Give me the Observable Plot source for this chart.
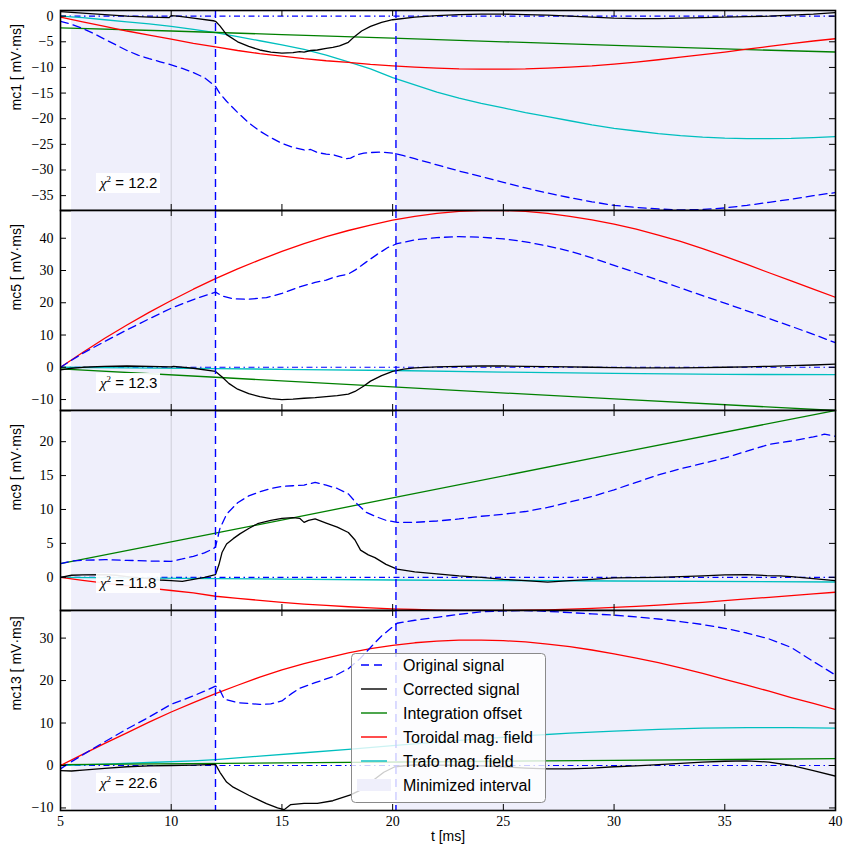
<!DOCTYPE html>
<html><head><meta charset="utf-8">
<script src="https://cdn.jsdelivr.net/npm/d3@7"></script>
<script src="https://cdn.jsdelivr.net/npm/@observablehq/plot@0.6"></script>
<style>
body{margin:0;background:#fff;}
#chart{position:relative;width:851px;height:858px;overflow:hidden;background:#fff;}
#chart svg{position:absolute;left:0;}
</style></head><body><div id="chart"></div>
<script>
// ---------- data ----------
const tExtent = [5, 40];
const xTicks = [5, 10, 15, 20, 25, 30, 35, 40];
const minimizedIntervals = [[5.5, 12], [20.15, 40]];
const cutLines = [12, 20.15];
const refLine = [10];
const panelLabels = ["mc1 [ mV·ms]", "mc5 [ mV·ms]", "mc9 [ mV·ms]", "mc13 [ mV·ms]"];
const chi2Values = ["12.2", "12.3", "11.8", "22.6"];
const yDomains = [[-37.9, 1.1], [-13.4, 48.6], [-4.9, 24.6], [-10.6, 36.5]];
const yTicks = [[0, -5, -10, -15, -20, -25, -30, -35], [-10, 0, 10, 20, 30, 40], [0, 5, 10, 15, 20], [-10, 0, 10, 20, 30]];
const legendLabels = ["Original signal", "Corrected signal", "Integration offset", "Toroidal mag. field", "Trafo mag. field", "Minimized interval"];

// mc1
const mc1Original = [[5,-1.0],[5.5,-1.6],[6,-2.4],[6.5,-3.4],[7,-4.5],[7.5,-5.6],[8,-6.7],[8.5,-7.6],[9,-8.3],[9.5,-8.9],[10,-9.5],[10.5,-10.2],[11,-11.0],[11.5,-12.0],[12,-13.7],[12.2,-15.1],[12.5,-16.6],[13,-18.8],[13.5,-20.8],[14,-22.4],[14.5,-23.7],[15,-24.8],[15.5,-25.6],[16,-26.1],[16.3,-26.0],[16.6,-26.6],[17,-26.9],[17.3,-27.0],[17.6,-27.4],[17.9,-27.8],[18.1,-27.7],[18.4,-27.0],[18.7,-26.7],[19,-26.6],[19.5,-26.5],[20,-26.7],[20.5,-27.2],[21,-27.8],[22,-29.0],[23,-30.2],[24,-31.3],[25,-32.4],[26,-33.5],[27,-34.5],[28,-35.4],[29,-36.2],[30,-36.9],[31,-37.3],[32,-37.6],[33,-37.8],[34,-37.7],[35,-37.4],[36,-36.9],[37,-36.3],[38,-35.7],[39,-35.0],[40,-34.4]];
const mc1Corrected = [[5,0.9],[6,0.6],[7,0.3],[8,0.0],[9,-0.2],[9.9,-0.3],[10,0.1],[10.3,0.0],[11,-0.4],[11.9,-0.9],[12,-1.0],[12.2,-1.9],[12.5,-3.6],[13,-5.0],[13.5,-5.9],[14,-6.6],[14.5,-7.0],[15,-7.2],[15.5,-7.1],[15.8,-6.9],[16,-7.0],[16.3,-6.7],[16.6,-6.6],[17,-6.3],[17.3,-6.1],[17.6,-5.8],[18,-5.1],[18.3,-3.9],[18.6,-2.9],[19,-2.0],[19.5,-1.2],[20,-0.7],[21,-0.2],[22,0.1],[23,0.3],[24,0.4],[25,0.4],[26,0.3],[27,0.2],[28,0.0],[29,-0.2],[30,-0.4],[31,-0.5],[32,-0.5],[33,-0.4],[34,-0.3],[35,-0.2],[36,-0.1],[37,0.0],[38,0.2],[39,0.4],[40,0.7]];
const mc1Offset = [[5,-2.3],[10,-2.9],[15,-3.6],[20,-4.3],[25,-5.0],[30,-5.7],[35,-6.4],[40,-7.0]];
const mc1Toroidal = [[5,-0.2],[6,-1.1],[7,-2.0],[8,-2.9],[9,-3.7],[10,-4.5],[11,-5.3],[12,-6.0],[13,-6.7],[14,-7.3],[15,-7.8],[16,-8.3],[17,-8.7],[18,-9.0],[19,-9.4],[20,-9.7],[21,-9.95],[22,-10.15],[23,-10.3],[24,-10.35],[25,-10.35],[26,-10.3],[27,-10.15],[28,-9.95],[29,-9.7],[30,-9.35],[31,-8.95],[32,-8.5],[33,-8.0],[34,-7.5],[35,-7.0],[36,-6.45],[37,-5.9],[38,-5.35],[39,-4.85],[40,-4.4]];
const mc1Trafo = [[5,0],[6,-0.3],[7,-0.7],[8,-1.1],[9,-1.5],[10,-2.0],[11,-2.6],[12,-3.2],[13,-4.0],[14,-4.8],[15,-5.6],[16,-6.5],[17,-7.6],[18,-8.9],[19,-10.3],[20,-12.0],[21,-13.4],[22,-14.8],[23,-16.0],[24,-17.0],[25,-17.9],[26,-18.8],[27,-19.6],[28,-20.4],[29,-21.2],[30,-21.9],[31,-22.4],[32,-22.9],[33,-23.3],[34,-23.6],[35,-23.8],[36,-23.9],[37,-23.9],[38,-23.85],[39,-23.7],[40,-23.5]];

// mc5
const mc5Original = [[5,0],[5.5,2.2],[6,4.3],[7,8.0],[8,11.6],[9,15.0],[10,18.3],[11,21.0],[12,23.3],[12.3,22.1],[12.8,21.2],[13.5,21.1],[14.3,21.6],[15,22.9],[15.8,24.9],[16.5,26.3],[17,27.0],[17.3,27.8],[17.6,28.3],[18,28.9],[18.3,30.1],[18.8,32.6],[19.3,35.0],[19.8,37.2],[20.2,38.3],[21,39.5],[22,40.2],[23,40.5],[24,40.3],[25,39.8],[26,38.9],[27,37.6],[28,36.0],[29,33.9],[30,31.6],[31,29.3],[32,27.0],[33,24.6],[34,22.2],[35,19.9],[36,17.5],[37,15.1],[38,12.7],[39,10.2],[40,7.6]];
const mc5Corrected = [[5,-0.8],[5.5,-0.3],[6,0.0],[7,0.3],[8,0.4],[9,0.3],[10,0.1],[10.1,0.3],[11,-0.3],[12,-1.3],[12.3,-3.0],[12.6,-5.0],[13,-6.8],[13.5,-8.2],[14,-9.1],[14.5,-9.7],[15,-10.0],[15.5,-9.9],[16,-9.6],[16.5,-9.4],[17,-9.1],[17.5,-8.8],[18,-8.3],[18.3,-7.5],[18.7,-5.8],[19,-4.3],[19.5,-2.6],[20,-1.3],[20.5,-0.6],[21,-0.2],[22,0.1],[23,0.3],[24,0.4],[25,0.4],[26,0.3],[27,0.2],[28,0.1],[29,0.0],[30,-0.1],[31,-0.2],[32,-0.2],[33,-0.2],[34,-0.1],[35,0.0],[36,0.1],[37,0.3],[38,0.5],[39,0.7],[40,1.0]];
const mc5Offset = [[5,-0.5],[12,-3.1],[20,-6.1],[30,-9.8],[40,-13.4]];
const mc5Toroidal = [[5,0],[6,4.6],[7,9.0],[8,13.1],[9,17.0],[10,20.7],[11,24.2],[12,27.5],[13,30.5],[14,33.3],[15,35.9],[16,38.3],[17,40.5],[18,42.4],[19,44.1],[20,45.6],[21,46.8],[22,47.7],[23,48.3],[24,48.6],[25,48.6],[26,48.3],[27,47.7],[28,46.8],[29,45.7],[30,44.4],[31,42.8],[32,41.0],[33,39.0],[34,36.8],[35,34.4],[36,31.9],[37,29.3],[38,26.8],[39,24.2],[40,21.7]];
const mc5Trafo = [[5,0],[8,-0.2],[12,-0.4],[16,-0.7],[20,-1.0],[25,-1.5],[30,-1.9],[35,-2.2],[40,-2.3]];

// mc9
const mc9Original = [[5,2.0],[5.5,2.4],[6,2.5],[7,2.6],[8,2.5],[9,2.4],[10,2.35],[10.5,2.7],[11,3.1],[11.5,3.6],[11.9,4.2],[12,4.5],[12.2,7.2],[12.5,9.3],[13,11.0],[13.5,12.0],[14,12.6],[14.5,13.1],[15,13.4],[15.5,13.5],[16,13.6],[16.5,14.0],[17,13.6],[17.5,13.1],[18,12.3],[18.4,10.8],[18.8,9.6],[19.2,9.0],[19.7,8.4],[20.2,8.1],[21,8.1],[22,8.3],[23,8.6],[24,9.0],[25,9.3],[26,9.7],[27,10.3],[28,11.1],[29,11.9],[30,12.9],[31,14.0],[32,15.1],[33,16.0],[34,16.8],[35,17.6],[36,18.6],[37,19.6],[38,20.1],[39,20.7],[39.5,21.1],[40,20.8]];
const mc9Corrected = [[5,0.0],[5.5,0.3],[6,0.35],[7,0.4],[7.5,0.3],[8,0.1],[8.5,-0.1],[9,-0.2],[9.5,-0.4],[10,-0.5],[10.5,-0.6],[11,-0.3],[11.5,0.0],[12,0.4],[12.15,1.8],[12.3,3.7],[12.5,4.9],[12.8,5.7],[13.1,6.4],[13.5,7.2],[13.9,7.9],[14.5,8.4],[15,8.7],[15.5,8.8],[15.8,8.7],[16,8.1],[16.2,8.4],[16.5,8.6],[17,8.0],[17.5,7.4],[18,6.6],[18.3,5.5],[18.55,4.0],[18.9,3.3],[19.2,2.9],[19.7,1.9],[20.2,1.2],[21,0.8],[22,0.5],[23,0.2],[24,0.0],[25,-0.3],[26,-0.5],[27,-0.7],[28,-0.5],[29,-0.3],[30,-0.1],[31,-0.05],[32,0.0],[33,0.1],[34,0.2],[35,0.35],[36,0.4],[36.9,0.25],[37.5,0.2],[38,0.1],[39,-0.2],[40,-0.5]];
const mc9Offset = [[5,2.0],[12,6.5],[20,11.7],[30,18.2],[40,24.6]];
const mc9Toroidal = [[5,0],[6,-0.45],[7,-0.85],[8,-1.25],[9,-1.6],[10,-1.95],[11,-2.3],[12,-2.8],[13,-3.1],[14,-3.4],[15,-3.7],[16,-3.95],[17,-4.15],[18,-4.35],[19,-4.5],[20,-4.65],[21,-4.75],[22,-4.85],[23,-4.9],[24,-4.9],[25,-4.9],[26,-4.85],[27,-4.8],[28,-4.7],[29,-4.6],[30,-4.45],[31,-4.3],[32,-4.1],[33,-3.9],[34,-3.7],[35,-3.45],[36,-3.2],[37,-2.95],[38,-2.7],[39,-2.45],[40,-2.2]];
const mc9Trafo = [[5,0],[12,-0.2],[20,-0.4],[30,-0.55],[40,-0.7]];

// mc13
const mc13Original = [[5,-0.8],[5.5,0.9],[6,2.5],[7,5.6],[8,8.6],[9,11.4],[10,14.4],[10.5,15.4],[11,16.4],[11.5,17.5],[12,18.7],[12.2,17.7],[12.4,15.6],[13,14.8],[14,14.4],[14.5,14.5],[15,15.2],[15.4,16.8],[15.8,18.2],[16.5,19.5],[17.3,20.9],[18,22.8],[18.5,25.0],[19,27.8],[19.5,30.5],[20.2,33.5],[21,34.2],[22,34.9],[23,35.6],[24,36.2],[25,36.4],[26,36.5],[27,36.3],[28,36.0],[29,35.7],[30,35.4],[31,35.0],[32,34.5],[33,33.9],[34,33.2],[35,32.3],[36,31.2],[37,29.8],[38,27.8],[39,24.5],[40,21.3]];
const mc13Corrected = [[5,-1.2],[5.5,-1.3],[6,-1.1],[7,-0.7],[8,-0.3],[9,-0.1],[10,0.0],[11,0.1],[12,0.25],[12.2,-1.6],[12.5,-3.9],[12.8,-5.1],[13.5,-7.0],[14.3,-9.0],[14.8,-10.0],[15.1,-10.4],[15.4,-9.2],[16,-8.9],[16.6,-8.9],[17.3,-8.3],[18.1,-6.9],[18.5,-5.9],[18.85,-4.7],[19.2,-3.2],[19.6,-1.6],[20.1,-0.3],[21,0.15],[22,0.1],[23,0.0],[24,-0.1],[25,-0.3],[26,-0.6],[27,-0.8],[28,-0.8],[29,-0.6],[30,-0.3],[31,-0.1],[32,0.2],[33,0.5],[34,0.8],[35,1.0],[36,1.1],[37,0.8],[38,0.0],[39,-1.2],[40,-2.5]];
const mc13Offset = [[5,0.2],[15,0.6],[25,1.0],[30,1.2],[40,1.6]];
const mc13Toroidal = [[5,0],[6,2.6],[7,5.2],[8,7.7],[9,10.2],[10,12.6],[11,14.8],[12,16.9],[13,18.9],[14,20.8],[15,22.5],[16,24.0],[17,25.3],[18,26.5],[19,27.5],[20,28.3],[21,28.9],[22,29.3],[23,29.5],[24,29.5],[25,29.4],[26,29.1],[27,28.6],[28,28.0],[29,27.2],[30,26.3],[31,25.3],[32,24.2],[33,23.0],[34,21.7],[35,20.3],[36,18.9],[37,17.5],[38,16.0],[39,14.6],[40,13.2]];
const mc13Trafo = [[5,0],[7,0.3],[9,0.7],[11,1.1],[12,1.4],[14,2.2],[16,3.0],[18,3.8],[20,4.7],[22,5.5],[24,6.3],[26,7.0],[28,7.6],[30,8.1],[32,8.5],[34,8.8],[36,8.9],[38,8.9],[40,8.8]];

const panels = [
  {original: mc1Original, corrected: mc1Corrected, offset: mc1Offset, toroidal: mc1Toroidal, trafo: mc1Trafo},
  {original: mc5Original, corrected: mc5Corrected, offset: mc5Offset, toroidal: mc5Toroidal, trafo: mc5Trafo},
  {original: mc9Original, corrected: mc9Corrected, offset: mc9Offset, toroidal: mc9Toroidal, trafo: mc9Trafo},
  {original: mc13Original, corrected: mc13Corrected, offset: mc13Offset, toroidal: mc13Toroidal, trafo: mc13Trafo}
];

// ---------- styles ----------
const C = {original: "#0000ff", corrected: "#000000", offset: "#008000", toroidal: "#ff0000", trafo: "#00bfbf", shade: "#efeffb"};
const serif = "'Liberation Serif', 'Times New Roman', serif";
const sans = "'Liberation Sans', Arial, Helvetica, sans-serif";
const W = 851, ML = 60, MR = 16, FRAME_H = 200;
const fmt = d => d < 0 ? "\u2212" + Math.abs(d) : String(d);

const chart = document.getElementById("chart");

panels.forEach((s, i) => {
  const last = i === 3;
  const mb = last ? 48 : 10;
  const line = (data, stroke, extra = {}) => Plot.line(data, {x: d => d[0], y: d => d[1], stroke, strokeWidth: 1.3, clip: true, ...extra});
  const marks = [
    Plot.rect(minimizedIntervals, {x1: d => d[0], x2: d => d[1], fill: C.shade}),
    Plot.ruleX(refLine, {stroke: "#cfcfd9", strokeWidth: 1}),
    Plot.ruleY([0], {stroke: C.original, strokeWidth: 1.2, strokeDasharray: "6,3.5,1.5,3.5"}),
    line(s.trafo, C.trafo),
    line(s.offset, C.offset),
    line(s.toroidal, C.toroidal),
    line(s.original, C.original, {strokeDasharray: "8,5"}),
    line(s.corrected, C.corrected),
    Plot.ruleX(cutLines, {stroke: C.original, strokeWidth: 1.4, strokeDasharray: "8,5"}),
    Plot.tickY(yTicks[i], {y: d => d, insetRight: W - ML - MR - 6, stroke: "black", strokeWidth: 1}),
    Plot.tickY(yTicks[i], {y: d => d, insetLeft: W - ML - MR - 6, stroke: "black", strokeWidth: 1}),
    Plot.tickX(xTicks, {x: d => d, insetTop: FRAME_H - 6, stroke: "black", strokeWidth: 1}),
    Plot.tickX(xTicks, {x: d => d, insetBottom: FRAME_H - 6, stroke: "black", strokeWidth: 1}),
    Plot.frame({stroke: "black", strokeWidth: 1.6}),
    Plot.text([panelLabels[i]], {frameAnchor: "left", text: d => d, rotate: -90, dx: -44, fontFamily: sans, fontSize: 14, fill: "black"})
  ];
  if (last) marks.push(Plot.text(["t [ms]"], {frameAnchor: "bottom", text: d => d, dy: 30, fontFamily: sans, fontSize: 14, fill: "black"}));
  const p = Plot.plot({
    width: W,
    height: 10 + FRAME_H + mb,
    marginTop: 10,
    marginBottom: mb,
    marginLeft: ML,
    marginRight: MR,
    style: {background: "transparent", overflow: "visible", fontFamily: serif, fontSize: "14px", color: "black"},
    x: last ? {domain: tExtent, ticks: xTicks, tickSize: 0, tickPadding: 6, tickFormat: fmt, label: null} : {domain: tExtent, axis: null},
    y: {domain: yDomains[i], ticks: yTicks[i], tickSize: 0, tickPadding: 7, tickFormat: fmt, label: null},
    marks
  });
  p.style.top = (FRAME_H * i) + "px";
  chart.appendChild(p);
});

// ---------- overlay: chi^2 boxes and legend ----------
const ov = d3.select(chart).append("svg")
  .attr("width", W).attr("height", 858)
  .style("top", "0px").style("pointer-events", "none");

chi2Values.forEach((v, i) => {
  const top = 10 + FRAME_H * i;
  const g = ov.append("g").attr("transform", `translate(96,${top + 163})`);
  g.append("rect").attr("width", 64).attr("height", 20).attr("fill", "white").attr("fill-opacity", 0.92);
  const t = g.append("text").attr("x", 4).attr("y", 15).attr("font-size", 15).attr("font-family", sans).attr("fill", "black");
  t.append("tspan").attr("font-family", serif).attr("font-style", "italic").text("\u03C7");
  t.append("tspan").attr("dy", -6).attr("font-size", 9).attr("font-family", serif).text("2");
  t.append("tspan").attr("dy", 6).text(" = " + v);
});

const lg = ov.append("g").attr("transform", "translate(351,653)");
lg.append("rect").attr("x", 0.5).attr("y", 0.5).attr("width", 194).attr("height", 149).attr("rx", 4)
  .attr("fill", "white").attr("fill-opacity", 0.8).attr("stroke", "#8a8a8a").attr("stroke-width", 1);
const legendStyles = [
  {stroke: C.original, dash: "8,5"},
  {stroke: C.corrected},
  {stroke: C.offset},
  {stroke: C.toroidal},
  {stroke: C.trafo},
  {patch: C.shade}
];
legendLabels.forEach((lab, k) => {
  const y = 12 + 24 * k;
  const st = legendStyles[k];
  if (st.patch) {
    lg.append("rect").attr("x", 6).attr("y", y - 6).attr("width", 34).attr("height", 12).attr("fill", st.patch);
  } else {
    lg.append("line").attr("x1", 10).attr("x2", 36).attr("y1", y).attr("y2", y)
      .attr("stroke", st.stroke).attr("stroke-width", 1.4).attr("stroke-dasharray", st.dash || null);
  }
  lg.append("text").attr("x", 52).attr("y", y).attr("dy", "0.36em").attr("font-family", sans).attr("font-size", 16).attr("fill", "black").text(lab);
});
</script>
</body></html>
